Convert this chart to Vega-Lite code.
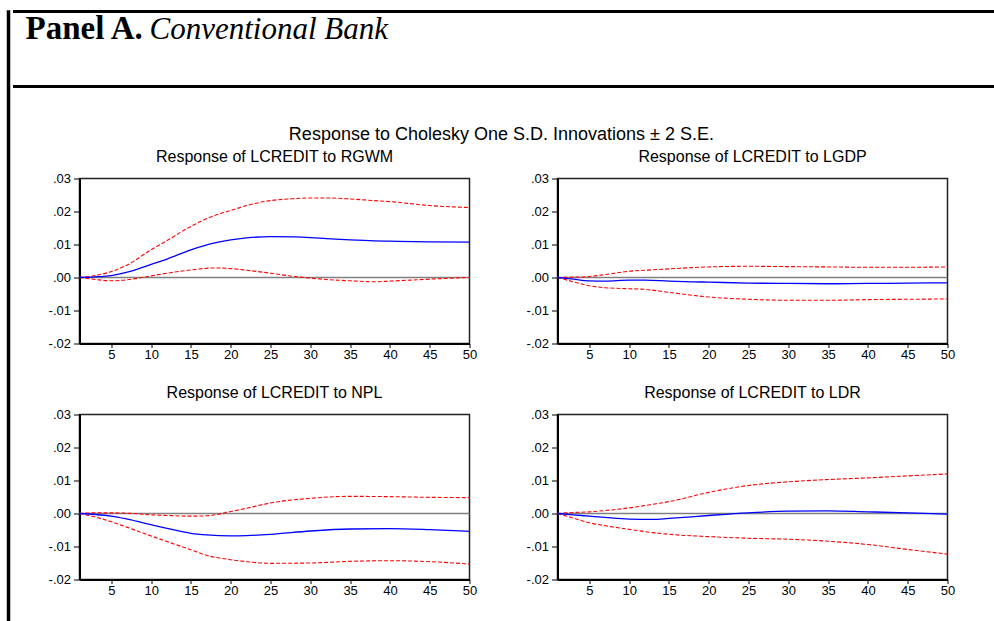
{
  "$schema": "https://vega.github.io/schema/vega-lite/v6.json",
  "padding": {"left": 6, "top": 9.5, "right": 0, "bottom": 0},
  "background": "#ffffff",
  "datasets": {
    "irf": [
      {"shock": "RGWM", "t": 1, "resp": 0, "hi": 0, "lo": 0},
      {"shock": "RGWM", "t": 3, "resp": 0.0002, "hi": 0.0006, "lo": -0.0006},
      {"shock": "RGWM", "t": 5, "resp": 0.0006, "hi": 0.0018, "lo": -0.001},
      {"shock": "RGWM", "t": 7, "resp": 0.0016, "hi": 0.0038, "lo": -0.0007},
      {"shock": "RGWM", "t": 10, "resp": 0.004, "hi": 0.0084, "lo": 0.0005},
      {"shock": "RGWM", "t": 12, "resp": 0.0056, "hi": 0.0112, "lo": 0.0013},
      {"shock": "RGWM", "t": 15, "resp": 0.0084, "hi": 0.0155, "lo": 0.0023},
      {"shock": "RGWM", "t": 18, "resp": 0.0105, "hi": 0.0188, "lo": 0.0029},
      {"shock": "RGWM", "t": 20, "resp": 0.0114, "hi": 0.0203, "lo": 0.0027},
      {"shock": "RGWM", "t": 22, "resp": 0.012, "hi": 0.0218, "lo": 0.0022},
      {"shock": "RGWM", "t": 25, "resp": 0.0124, "hi": 0.0233, "lo": 0.0013},
      {"shock": "RGWM", "t": 28, "resp": 0.0123, "hi": 0.0239, "lo": 0.0003},
      {"shock": "RGWM", "t": 30, "resp": 0.0121, "hi": 0.0241, "lo": -0.0002},
      {"shock": "RGWM", "t": 32, "resp": 0.0118, "hi": 0.0241, "lo": -0.0006},
      {"shock": "RGWM", "t": 35, "resp": 0.0114, "hi": 0.0238, "lo": -0.001},
      {"shock": "RGWM", "t": 38, "resp": 0.0111, "hi": 0.0233, "lo": -0.0013},
      {"shock": "RGWM", "t": 40, "resp": 0.011, "hi": 0.023, "lo": -0.0011},
      {"shock": "RGWM", "t": 45, "resp": 0.0108, "hi": 0.0218, "lo": -0.0005},
      {"shock": "RGWM", "t": 50, "resp": 0.0107, "hi": 0.0212, "lo": 0.0},

      {"shock": "LGDP", "t": 1, "resp": 0, "hi": 0, "lo": 0},
      {"shock": "LGDP", "t": 3, "resp": -0.0005, "hi": 0.0001, "lo": -0.0013},
      {"shock": "LGDP", "t": 5, "resp": -0.001, "hi": 0.0003, "lo": -0.0025},
      {"shock": "LGDP", "t": 7, "resp": -0.0011, "hi": 0.0009, "lo": -0.0031},
      {"shock": "LGDP", "t": 10, "resp": -0.0008, "hi": 0.0019, "lo": -0.0034},
      {"shock": "LGDP", "t": 12, "resp": -0.0008, "hi": 0.0022, "lo": -0.0036},
      {"shock": "LGDP", "t": 15, "resp": -0.0011, "hi": 0.0026, "lo": -0.0045},
      {"shock": "LGDP", "t": 18, "resp": -0.0013, "hi": 0.003, "lo": -0.0054},
      {"shock": "LGDP", "t": 20, "resp": -0.0014, "hi": 0.0032, "lo": -0.0059},
      {"shock": "LGDP", "t": 25, "resp": -0.0017, "hi": 0.0034, "lo": -0.0066},
      {"shock": "LGDP", "t": 30, "resp": -0.0018, "hi": 0.0033, "lo": -0.0069},
      {"shock": "LGDP", "t": 35, "resp": -0.0019, "hi": 0.0032, "lo": -0.0069},
      {"shock": "LGDP", "t": 40, "resp": -0.0018, "hi": 0.0031, "lo": -0.0067},
      {"shock": "LGDP", "t": 45, "resp": -0.0017, "hi": 0.0031, "lo": -0.0066},
      {"shock": "LGDP", "t": 50, "resp": -0.0016, "hi": 0.0032, "lo": -0.0065},

      {"shock": "NPL", "t": 1, "resp": 0, "hi": 0, "lo": 0},
      {"shock": "NPL", "t": 3, "resp": -0.0003, "hi": 0.0002, "lo": -0.0011},
      {"shock": "NPL", "t": 5, "resp": -0.0008, "hi": 0.0002, "lo": -0.0025},
      {"shock": "NPL", "t": 7, "resp": -0.0017, "hi": 0.0001, "lo": -0.0042},
      {"shock": "NPL", "t": 10, "resp": -0.0034, "hi": -0.0004, "lo": -0.0068},
      {"shock": "NPL", "t": 12, "resp": -0.0045, "hi": -0.0006, "lo": -0.0085},
      {"shock": "NPL", "t": 15, "resp": -0.006, "hi": -0.0008, "lo": -0.011},
      {"shock": "NPL", "t": 17, "resp": -0.0065, "hi": -0.0007, "lo": -0.0127},
      {"shock": "NPL", "t": 20, "resp": -0.0068, "hi": 0.0006, "lo": -0.014},
      {"shock": "NPL", "t": 22, "resp": -0.0067, "hi": 0.0016, "lo": -0.0146},
      {"shock": "NPL", "t": 25, "resp": -0.0063, "hi": 0.0032, "lo": -0.0151},
      {"shock": "NPL", "t": 30, "resp": -0.0053, "hi": 0.0046, "lo": -0.015},
      {"shock": "NPL", "t": 35, "resp": -0.0047, "hi": 0.0052, "lo": -0.0145},
      {"shock": "NPL", "t": 40, "resp": -0.0046, "hi": 0.0051, "lo": -0.0143},
      {"shock": "NPL", "t": 45, "resp": -0.0049, "hi": 0.0049, "lo": -0.0146},
      {"shock": "NPL", "t": 50, "resp": -0.0054, "hi": 0.0048, "lo": -0.0153},

      {"shock": "LDR", "t": 1, "resp": 0, "hi": 0, "lo": 0},
      {"shock": "LDR", "t": 3, "resp": -0.0004, "hi": 0.0003, "lo": -0.0014},
      {"shock": "LDR", "t": 5, "resp": -0.0008, "hi": 0.0005, "lo": -0.0028},
      {"shock": "LDR", "t": 7, "resp": -0.0012, "hi": 0.0009, "lo": -0.0037},
      {"shock": "LDR", "t": 10, "resp": -0.0017, "hi": 0.0017, "lo": -0.0048},
      {"shock": "LDR", "t": 13, "resp": -0.0018, "hi": 0.0028, "lo": -0.0058},
      {"shock": "LDR", "t": 15, "resp": -0.0015, "hi": 0.0036, "lo": -0.0063},
      {"shock": "LDR", "t": 20, "resp": -0.0006, "hi": 0.0064, "lo": -0.007},
      {"shock": "LDR", "t": 25, "resp": 0.0002, "hi": 0.0085, "lo": -0.0075},
      {"shock": "LDR", "t": 30, "resp": 0.0007, "hi": 0.0096, "lo": -0.0078},
      {"shock": "LDR", "t": 35, "resp": 0.0008, "hi": 0.0103, "lo": -0.0084},
      {"shock": "LDR", "t": 40, "resp": 0.0005, "hi": 0.0108, "lo": -0.0094},
      {"shock": "LDR", "t": 45, "resp": 0.0002, "hi": 0.0114, "lo": -0.0109},
      {"shock": "LDR", "t": 50, "resp": -0.0002, "hi": 0.012, "lo": -0.0123}
    ]
  },
  "spacing": 0,
  "hconcat": [
    {
      "width": 1,
      "height": 620,
      "view": {"stroke": "#000000", "strokeWidth": 2.5, "fill": "#000000"},
      "data": {"values": []},
      "mark": "point"
    },
    {
      "spacing": 37,
      "vconcat": [
        {
          "width": 990,
          "height": 75,
          "view": {"stroke": null, "fill": null},
          "resolve": {"scale": {"x": "independent", "y": "independent"}},
          "layer": [
            {
              "data": {"values": [{"edge": "top"}, {"edge": "bottom"}]},
              "mark": {"type": "rule", "color": "#000000", "strokeWidth": 3},
              "encoding": {
                "y": {"field": "edge", "type": "nominal", "scale": {"type": "point", "padding": 0, "domain": ["top", "bottom"]}, "axis": null}
              }
            },
            {
              "data": {"values": [{"part": "Panel A."}]},
              "mark": {"type": "text", "font": "Liberation Serif", "fontSize": 33, "fontWeight": "bold", "align": "left", "baseline": "alphabetic", "color": "#000000"},
              "encoding": {
                "x": {"field": "part", "type": "nominal", "scale": {"type": "point", "padding": 0, "range": [12.5, 12.5]}, "axis": null},
                "y": {"field": "part", "type": "nominal", "scale": {"type": "point", "padding": 0, "range": [27, 27]}, "axis": null},
                "text": {"field": "part"}
              }
            },
            {
              "data": {"values": [{"part": "Conventional Bank"}]},
              "mark": {"type": "text", "font": "Liberation Serif", "fontSize": 31, "fontStyle": "italic", "align": "left", "baseline": "alphabetic", "color": "#000000"},
              "encoding": {
                "x": {"field": "part", "type": "nominal", "scale": {"type": "point", "padding": 0, "range": [136.5, 136.5]}, "axis": null},
                "y": {"field": "part", "type": "nominal", "scale": {"type": "point", "padding": 0, "range": [27, 27]}, "axis": null},
                "text": {"field": "part"}
              }
            }
          ]
        },
        {
          "spacing": 32.5,
          "hconcat": [
            {
              "width": 1,
              "height": 1,
              "view": {"stroke": null, "fill": null},
              "data": {"values": []},
              "mark": "point"
            },
            {
              "title": {"text": "Response to Cholesky One S.D. Innovations ± 2 S.E.", "fontSize": 18, "offset": 4, "anchor": "middle"},
              "columns": 2,
              "spacing": {"column": 47, "row": 21},
              "concat": [
                {
                  "title": "Response of LCREDIT to RGWM",
                  "width": 390, "height": 165,
                  "data": {"name": "irf"},
                  "transform": [{"filter": "datum.shock === 'RGWM'"}],
                  "layer": [
                    {"data": {"values": [{}]}, "mark": {"type": "rule", "color": "#808080", "strokeWidth": 1.5}, "encoding": {"y": {"datum": 0, "type": "quantitative", "scale": {"domain": [-0.02, 0.03], "nice": false, "zero": false}}}},
                    {"mark": {"type": "line", "color": "#ff0000", "strokeWidth": 1.1, "strokeDash": [4, 2], "interpolate": "monotone"}, "encoding": {"x": {"field": "t", "type": "quantitative", "scale": {"domain": [1, 50], "nice": false, "zero": false}}, "y": {"field": "hi", "type": "quantitative"}}},
                    {"mark": {"type": "line", "color": "#ff0000", "strokeWidth": 1.1, "strokeDash": [4, 2], "interpolate": "monotone"}, "encoding": {"x": {"field": "t", "type": "quantitative"}, "y": {"field": "lo", "type": "quantitative"}}},
                    {"mark": {"type": "line", "color": "#0000ff", "strokeWidth": 1.3, "interpolate": "monotone"}, "encoding": {"x": {"field": "t", "type": "quantitative"}, "y": {"field": "resp", "type": "quantitative"}}}
                  ]
                },
                {
                  "title": "Response of LCREDIT to LGDP",
                  "width": 390, "height": 165,
                  "data": {"name": "irf"},
                  "transform": [{"filter": "datum.shock === 'LGDP'"}],
                  "layer": [
                    {"data": {"values": [{}]}, "mark": {"type": "rule", "color": "#808080", "strokeWidth": 1.5}, "encoding": {"y": {"datum": 0, "type": "quantitative", "scale": {"domain": [-0.02, 0.03], "nice": false, "zero": false}}}},
                    {"mark": {"type": "line", "color": "#ff0000", "strokeWidth": 1.1, "strokeDash": [4, 2], "interpolate": "monotone"}, "encoding": {"x": {"field": "t", "type": "quantitative", "scale": {"domain": [1, 50], "nice": false, "zero": false}}, "y": {"field": "hi", "type": "quantitative"}}},
                    {"mark": {"type": "line", "color": "#ff0000", "strokeWidth": 1.1, "strokeDash": [4, 2], "interpolate": "monotone"}, "encoding": {"x": {"field": "t", "type": "quantitative"}, "y": {"field": "lo", "type": "quantitative"}}},
                    {"mark": {"type": "line", "color": "#0000ff", "strokeWidth": 1.3, "interpolate": "monotone"}, "encoding": {"x": {"field": "t", "type": "quantitative"}, "y": {"field": "resp", "type": "quantitative"}}}
                  ]
                },
                {
                  "title": "Response of LCREDIT to NPL",
                  "width": 390, "height": 165,
                  "data": {"name": "irf"},
                  "transform": [{"filter": "datum.shock === 'NPL'"}],
                  "layer": [
                    {"data": {"values": [{}]}, "mark": {"type": "rule", "color": "#808080", "strokeWidth": 1.5}, "encoding": {"y": {"datum": 0, "type": "quantitative", "scale": {"domain": [-0.02, 0.03], "nice": false, "zero": false}}}},
                    {"mark": {"type": "line", "color": "#ff0000", "strokeWidth": 1.1, "strokeDash": [4, 2], "interpolate": "monotone"}, "encoding": {"x": {"field": "t", "type": "quantitative", "scale": {"domain": [1, 50], "nice": false, "zero": false}}, "y": {"field": "hi", "type": "quantitative"}}},
                    {"mark": {"type": "line", "color": "#ff0000", "strokeWidth": 1.1, "strokeDash": [4, 2], "interpolate": "monotone"}, "encoding": {"x": {"field": "t", "type": "quantitative"}, "y": {"field": "lo", "type": "quantitative"}}},
                    {"mark": {"type": "line", "color": "#0000ff", "strokeWidth": 1.3, "interpolate": "monotone"}, "encoding": {"x": {"field": "t", "type": "quantitative"}, "y": {"field": "resp", "type": "quantitative"}}}
                  ]
                },
                {
                  "title": "Response of LCREDIT to LDR",
                  "width": 390, "height": 165,
                  "data": {"name": "irf"},
                  "transform": [{"filter": "datum.shock === 'LDR'"}],
                  "layer": [
                    {"data": {"values": [{}]}, "mark": {"type": "rule", "color": "#808080", "strokeWidth": 1.5}, "encoding": {"y": {"datum": 0, "type": "quantitative", "scale": {"domain": [-0.02, 0.03], "nice": false, "zero": false}}}},
                    {"mark": {"type": "line", "color": "#ff0000", "strokeWidth": 1.1, "strokeDash": [4, 2], "interpolate": "monotone"}, "encoding": {"x": {"field": "t", "type": "quantitative", "scale": {"domain": [1, 50], "nice": false, "zero": false}}, "y": {"field": "hi", "type": "quantitative"}}},
                    {"mark": {"type": "line", "color": "#ff0000", "strokeWidth": 1.1, "strokeDash": [4, 2], "interpolate": "monotone"}, "encoding": {"x": {"field": "t", "type": "quantitative"}, "y": {"field": "lo", "type": "quantitative"}}},
                    {"mark": {"type": "line", "color": "#0000ff", "strokeWidth": 1.3, "interpolate": "monotone"}, "encoding": {"x": {"field": "t", "type": "quantitative"}, "y": {"field": "resp", "type": "quantitative"}}}
                  ]
                }
              ]
            }
          ]
        }
      ]
    }
  ],
  "config": {
    "font": "Liberation Sans",
    "view": {"stroke": "#222222", "strokeWidth": 1.5},
    "title": {"font": "Liberation Sans", "fontSize": 16, "fontWeight": "normal", "color": "#000000", "offset": 8, "anchor": "middle"},
    "axis": {"title": null, "grid": false, "domainColor": "#000000", "domainWidth": 2, "tickColor": "#000000", "tickWidth": 1, "labelFont": "Liberation Sans", "labelFontSize": 13, "labelColor": "#000000"},
    "axisY": {"values": [-0.02, -0.01, 0, 0.01, 0.02, 0.03], "labelExpr": "replace(replace(format(datum.value, '.2f'), '0.', '.'), '\u2212', '-')", "tickSize": 6, "labelPadding": 3},
    "axisX": {"values": [1, 2, 3, 4, 5, 6, 7, 8, 9, 10, 11, 12, 13, 14, 15, 16, 17, 18, 19, 20, 21, 22, 23, 24, 25, 26, 27, 28, 29, 30, 31, 32, 33, 34, 35, 36, 37, 38, 39, 40, 41, 42, 43, 44, 45, 46, 47, 48, 49, 50], "labelExpr": "datum.value % 5 === 0 ? datum.label : ''", "tickSize": 4, "labelPadding": 1, "labelOverlap": false, "labelFlush": false, "labelBound": false}
  }
}
